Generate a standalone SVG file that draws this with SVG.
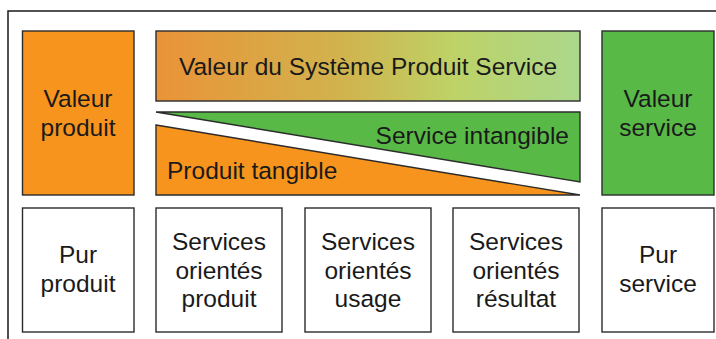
<svg xmlns="http://www.w3.org/2000/svg" width="716" height="339" viewBox="0 0 716 339">
<style>
.box{stroke:#2b2b2b;stroke-width:1.4}
.white{fill:#ffffff}
.orange{fill:#F7941E}
.green{fill:#58B947}
text{font-family:"Liberation Sans",Arial,sans-serif;font-size:24.5px;fill:#1a1a1a;text-anchor:middle}
</style>
<defs>
<linearGradient id="grad" x1="0" y1="0" x2="1" y2="0">
<stop offset="0" stop-color="#EA9338"/>
<stop offset="0.45" stop-color="#D0B44E"/>
<stop offset="0.7" stop-color="#BED266"/>
<stop offset="1" stop-color="#ABD78C"/>
</linearGradient>
</defs>
<rect width="716" height="339" fill="#ffffff"/>
<g id="frame">
<path d="M8 339 V11 H716" fill="none" stroke="#1a1a1a" stroke-width="1.5"/>
</g>
<g id="valeur-produit">
<rect class="box orange" x="22.5" y="31" width="111.5" height="164"/>
<text x="78" y="107">Valeur</text>
<text x="78" y="136">produit</text>
</g>
<g id="valeur-sps">
<rect class="box" fill="url(#grad)" x="156" y="31" width="424" height="70"/>
<text x="368" y="75">Valeur du Système Produit Service</text>
</g>
<g id="service-intangible">
<polygon class="box green" points="156,112 580,112 580,182"/>
<text x="569" y="144" style="text-anchor:end">Service intangible</text>
</g>
<g id="produit-tangible">
<polygon class="box orange" points="156,125 580,195 156,195"/>
<text x="167" y="179" style="text-anchor:start">Produit tangible</text>
</g>
<g id="valeur-service">
<rect class="box green" x="602" y="31" width="112" height="164"/>
<text x="658" y="107">Valeur</text>
<text x="658" y="136">service</text>
</g>
<g id="pur-produit">
<rect class="box white" x="22.5" y="208" width="111.5" height="124"/>
<text x="78" y="263">Pur</text>
<text x="78" y="292">produit</text>
</g>
<g id="services-orientes-produit">
<rect class="box white" x="156" y="208" width="126" height="124"/>
<text x="219" y="250">Services</text>
<text x="219" y="278.5">orientés</text>
<text x="219" y="307">produit</text>
</g>
<g id="services-orientes-usage">
<rect class="box white" x="305" y="208" width="126" height="124"/>
<text x="368" y="250">Services</text>
<text x="368" y="278.5">orientés</text>
<text x="368" y="307">usage</text>
</g>
<g id="services-orientes-resultat">
<rect class="box white" x="453" y="208" width="126" height="124"/>
<text x="516" y="250">Services</text>
<text x="516" y="278.5">orientés</text>
<text x="516" y="307">résultat</text>
</g>
<g id="pur-service">
<rect class="box white" x="602" y="208" width="112" height="124"/>
<text x="658" y="263">Pur</text>
<text x="658" y="292">service</text>
</g>
<g id="connectors"></g>
</svg>
